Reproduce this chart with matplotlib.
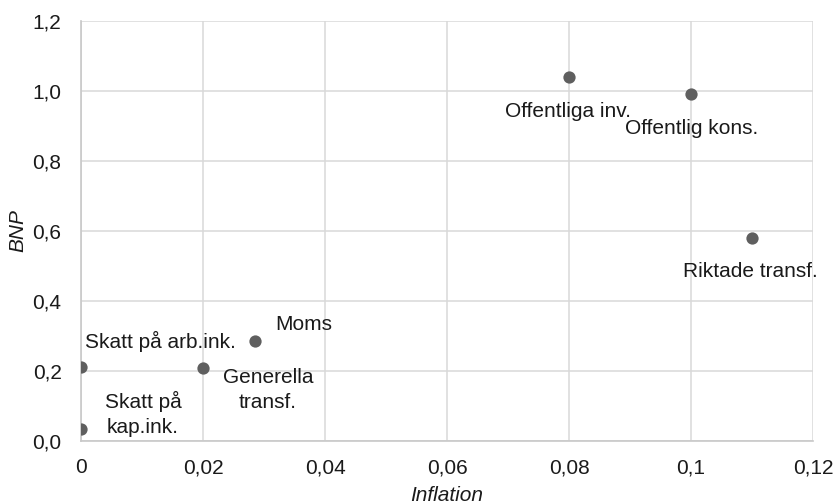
import matplotlib
matplotlib.use("Agg")
import matplotlib.pyplot as plt
from matplotlib.ticker import FuncFormatter

plt.rcParams['font.family'] = ['Liberation Sans', 'DejaVu Sans']

# Effects of fiscal measures on inflation and GDP
labels = ["Skatt på\nkap.ink.", "Skatt på arb.ink.", "Generella\ntransf.", "Moms",
          "Offentliga inv.", "Offentlig kons.", "Riktade transf."]
inflation = [0.0, 0.0, 0.02, 0.0285, 0.08, 0.10, 0.11]
bnp = [0.034, 0.211, 0.209, 0.286, 1.04, 0.991, 0.58]

# label centre offsets from each point, in points
label_offsets = [(44.6, 10.8), (57, 18.7), (46.8, -16.2), (35.3, 11.5),
                 (-0.7, -25), (0.5, -25), (-1.5, -24)]

x_ticks = [0, 0.02, 0.04, 0.06, 0.08, 0.1, 0.12]
y_ticks = [0, 0.2, 0.4, 0.6, 0.8, 1.0, 1.2]

FS = 15
TXT = "#1a1a1a"

fig = plt.figure(figsize=(8.36, 5.04), dpi=100)
ax = fig.add_axes([81 / 836, 1 - 441 / 504, (813 - 81) / 836, (441 - 21) / 504])

ax.scatter(inflation, bnp, s=78, color="#5f5f5f", zorder=3, linewidths=0)

for lab, x, y, (dx, dy) in zip(labels, inflation, bnp, label_offsets):
    ax.annotate(lab, (x, y), xytext=(dx, dy), textcoords="offset points",
                ha="center", va="center", fontsize=FS, color=TXT,
                zorder=4, linespacing=1.4, annotation_clip=False)

ax.set_xlim(0, 0.12)
ax.set_ylim(0, 1.2)
ax.set_xticks(x_ticks)
ax.set_yticks(y_ticks)

def fmt_x(v, pos):
    s = f"{v:.2f}".rstrip("0").rstrip(".") if v != 0 else "0"
    return s.replace(".", ",")

ax.xaxis.set_major_formatter(FuncFormatter(fmt_x))
ax.yaxis.set_major_formatter(FuncFormatter(lambda v, p: f"{v:.1f}".replace(".", ",")))

ax.grid(True, color="#d9d9d9", linewidth=1.1, zorder=0)
ax.set_axisbelow(True)
for side in ["top", "right"]:
    ax.spines[side].set_visible(False)
for side in ["left", "bottom"]:
    ax.spines[side].set_color("#c8c8c8")
    ax.spines[side].set_linewidth(1.2)
ax.tick_params(length=0, labelsize=FS, colors=TXT)
ax.tick_params(axis="x", pad=12.5)
ax.tick_params(axis="y", pad=14)

ax.set_xlabel("Inflation", fontsize=FS, style="italic", color=TXT, labelpad=6)
ax.set_ylabel("BNP", fontsize=FS, style="italic", color=TXT, labelpad=4)

fig.savefig("out.png", dpi=100)
